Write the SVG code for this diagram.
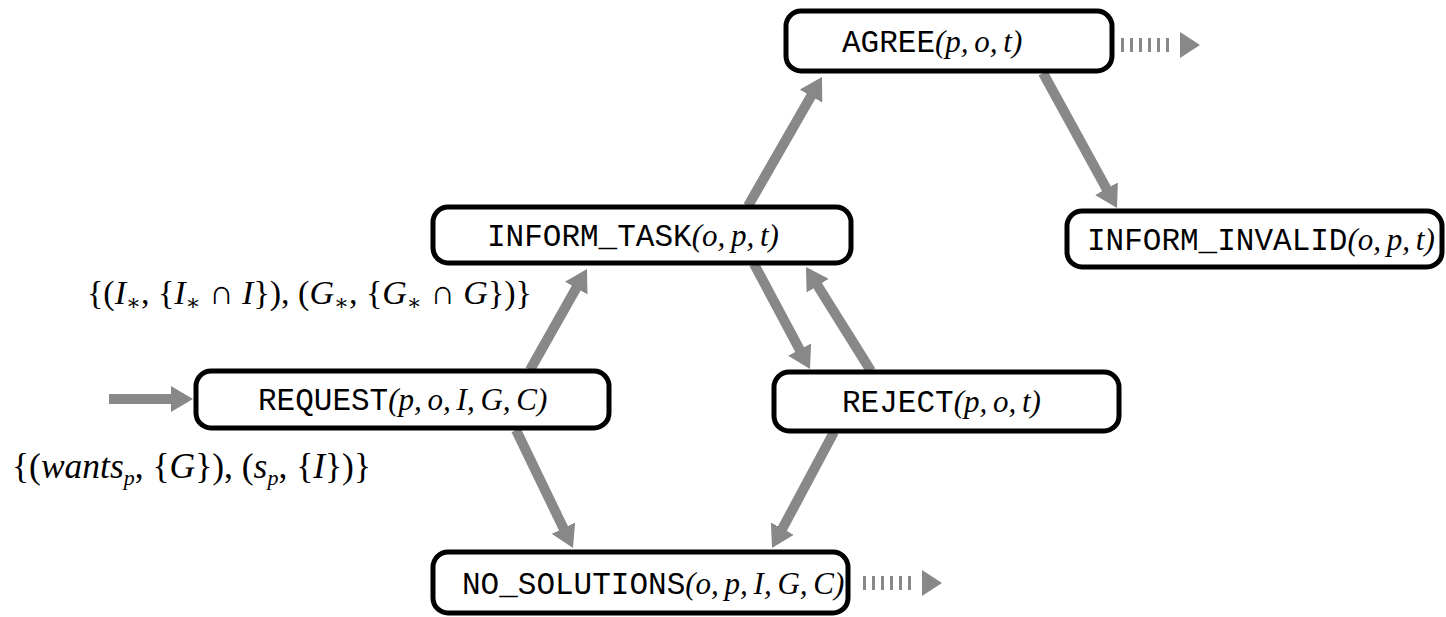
<svg xmlns="http://www.w3.org/2000/svg" width="1446" height="617" viewBox="0 0 1446 617">
<style>
.box{fill:#fff;stroke:#000;stroke-width:5}
.tt{font-family:"Liberation Mono","DejaVu Sans Mono",monospace;font-size:31px;fill:#000}
.mi{font-family:"Liberation Serif","DejaVu Serif",serif;font-style:italic;font-size:31px;word-spacing:-2px}
.m{font-family:"Liberation Serif","DejaVu Serif",serif;font-size:34px;fill:#000}
.m2{font-size:35.5px}
.i{font-style:italic}
.sub{font-size:22px}
.arr{stroke:#888;stroke-width:10;fill:none;marker-end:url(#ah)}
.dot{stroke:#888;stroke-width:14;stroke-dasharray:3 6;fill:none}
.tri{fill:#888}
</style>
<defs>
<marker id="ah" markerUnits="userSpaceOnUse" markerWidth="22" markerHeight="26" refX="8" refY="13" orient="auto" viewBox="0 0 22 26">
<path d="M0,0 L22,13 L0,26 z" fill="#888"/>
</marker>
</defs>
<g id="connectors">
<line class="arr" x1="109" y1="399" x2="179" y2="399"/>
<line class="arr" x1="530" y1="370" x2="580.1" y2="281.2"/>
<line class="arr" x1="748" y1="206" x2="815" y2="89.2"/>
<line class="arr" x1="1043" y1="73" x2="1110.3" y2="195.7"/>
<line class="arr" x1="754" y1="264" x2="803.4" y2="356.6"/>
<line class="arr" x1="871" y1="371" x2="813.4" y2="278.9"/>
<line class="arr" x1="516" y1="430" x2="566.9" y2="535.4"/>
<line class="arr" x1="834" y1="432" x2="778.6" y2="535.7"/>
<line class="dot" x1="1121" y1="45" x2="1175" y2="45"/>
<polygon class="tri" points="1180,32 1200,45 1180,58"/>
<line class="dot" x1="863" y1="583" x2="917" y2="583"/>
<polygon class="tri" points="922,570 942,583 922,596"/>
</g>
<g id="agree">
<rect class="box" x="786" y="11" width="326" height="60" rx="15"/>
<text class="tt" x="842" y="52">AGREE<tspan class="mi">(p, o, t)</tspan></text>
</g>
<g id="inform_task">
<rect class="box" x="433" y="207" width="418" height="56" rx="15"/>
<text class="tt" x="487" y="246">INFORM_TASK<tspan class="mi">(o, p, t)</tspan></text>
</g>
<g id="inform_invalid">
<rect class="box" x="1067" y="211" width="375" height="56" rx="15"/>
<text class="tt" x="1087" y="250">INFORM_INVALID<tspan class="mi">(o, p, t)</tspan></text>
</g>
<g id="request">
<rect class="box" x="196" y="371" width="413" height="57" rx="15"/>
<text class="tt" x="258" y="410">REQUEST<tspan class="mi">(p, o, I, G, C)</tspan></text>
</g>
<g id="reject">
<rect class="box" x="774" y="372" width="345" height="59" rx="15"/>
<text class="tt" x="842" y="412">REJECT<tspan class="mi">(p, o, t)</tspan></text>
</g>
<g id="no_solutions">
<rect class="box" x="433" y="552" width="415" height="61" rx="15"/>
<text class="tt" x="462" y="594">NO_SOLUTIONS<tspan class="mi">(o, p, I, G, C)</tspan></text>
</g>
<g id="labels">
<text class="m" x="87" y="304">{(<tspan class="i">I</tspan><tspan class="sub" dy="6">∗</tspan><tspan dy="-6">, {</tspan><tspan class="i">I</tspan><tspan class="sub" dy="6">∗</tspan><tspan dy="-6"> ∩ </tspan><tspan class="i">I</tspan>}), (<tspan class="i">G</tspan><tspan class="sub" dy="6">∗</tspan><tspan dy="-6">, {</tspan><tspan class="i">G</tspan><tspan class="sub" dy="6">∗</tspan><tspan dy="-6"> ∩ </tspan><tspan class="i">G</tspan>})}</text>
<text class="m m2" x="12" y="478">{(<tspan class="i">wants</tspan><tspan class="sub i" dy="7">p</tspan><tspan dy="-7">, {</tspan><tspan class="i">G</tspan>}), (<tspan class="i">s</tspan><tspan class="sub i" dy="7">p</tspan><tspan dy="-7">, {</tspan><tspan class="i">I</tspan>})}</text>
</g>
</svg>
